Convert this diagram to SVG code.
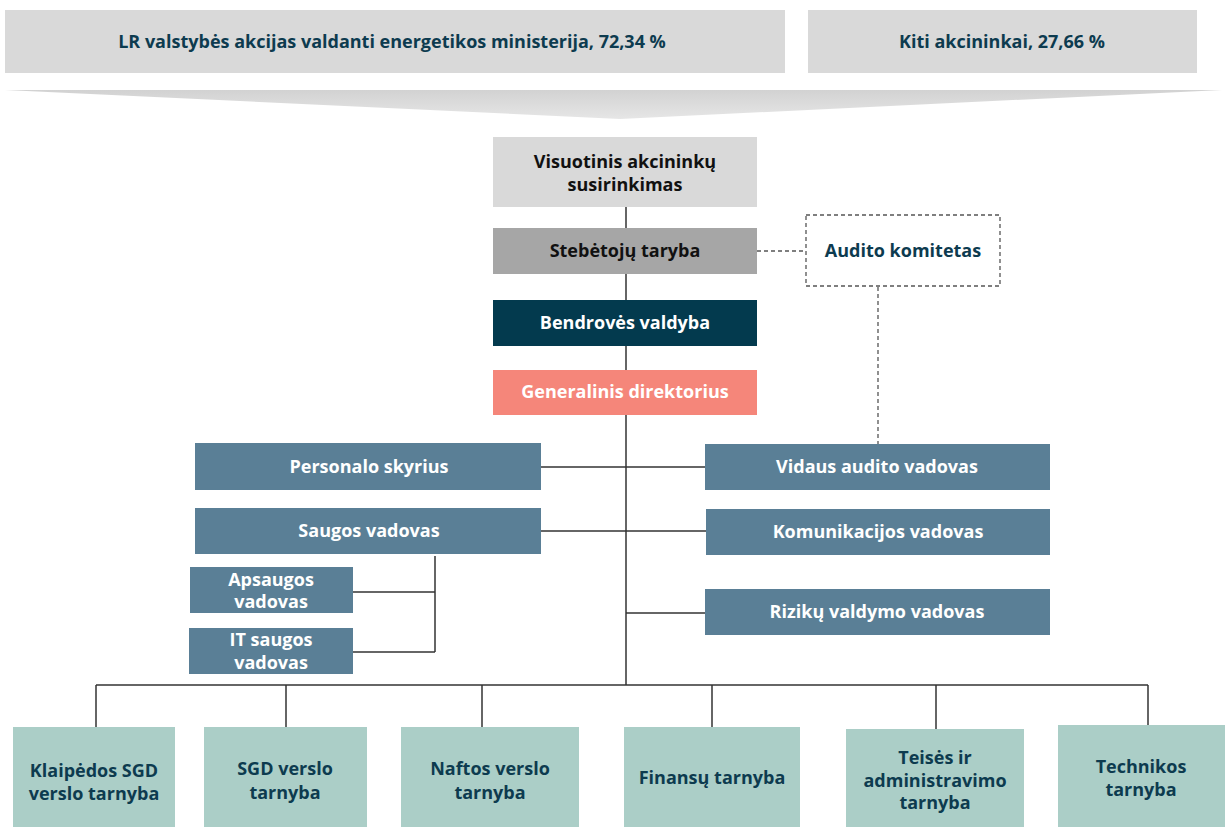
<svg xmlns="http://www.w3.org/2000/svg" width="1225" height="827" viewBox="0 0 1225 827">
<style>
text{font-family:"Open Sans",Lato,"Liberation Sans",sans-serif;font-weight:700;font-size:18px;text-anchor:middle}
.gray{fill:#d9d9d9}
.mid{fill:#a6a6a6}
.blue{fill:#5a7f96}
.teal{fill:#abcec7}
.dk{fill:#0d3b4f}
.wt{fill:#ffffff}
.bk{fill:#111111}
.ln{stroke:#333;stroke-width:1.5;fill:none}
.dash{stroke:#555;stroke-width:1.3;fill:none;stroke-dasharray:4 3}
</style>
<defs>
<linearGradient id="band" x1="0" y1="0" x2="0" y2="1">
<stop offset="0" stop-color="#d2d2d2"/>
<stop offset="1" stop-color="#e6e6e6"/>
</linearGradient>
</defs>
<rect width="1225" height="827" fill="#ffffff"/>

<g id="owner-lr"><rect class="gray" x="5" y="10" width="780" height="63"/><text class="dk" x="392" y="48">LR valstybės akcijas valdanti energetikos ministerija, 72,34 %</text></g>
<g id="owner-other"><rect class="gray" x="808" y="10" width="389" height="63"/><text class="dk" x="1002" y="48">Kiti akcininkai, 27,66 %</text></g>
<g id="band-arrow"><polygon points="5,90 1222,90 620,119" fill="url(#band)"/></g>

<g id="connectors">
<line class="ln" x1="626" y1="207" x2="626" y2="685"/>
<line class="ln" x1="541" y1="467" x2="705" y2="467"/>
<line class="ln" x1="541" y1="531" x2="706" y2="531"/>
<line class="ln" x1="626" y1="613" x2="705" y2="613"/>
<line class="ln" x1="435" y1="556" x2="435" y2="652"/>
<line class="ln" x1="353" y1="592" x2="435" y2="592"/>
<line class="ln" x1="353" y1="652" x2="435" y2="652"/>
<line class="ln" x1="96" y1="685" x2="1148" y2="685"/>
<line class="ln" x1="96" y1="685" x2="96" y2="727"/>
<line class="ln" x1="286" y1="685" x2="286" y2="727"/>
<line class="ln" x1="482" y1="685" x2="482" y2="727"/>
<line class="ln" x1="712" y1="685" x2="712" y2="727"/>
<line class="ln" x1="936" y1="685" x2="936" y2="729"/>
<line class="ln" x1="1148" y1="685" x2="1148" y2="725"/>
<line class="dash" x1="757" y1="251" x2="806" y2="251"/>
<line class="dash" x1="878" y1="287" x2="878" y2="444"/>
</g>

<g id="visuotinis"><rect class="gray" x="493" y="137" width="264" height="70"/><text class="bk" x="625" y="168">Visuotinis akcininkų</text><text class="bk" x="625" y="191">susirinkimas</text></g>
<g id="stebetoju"><rect class="mid" x="493" y="228" width="264" height="46"/><text class="bk" x="625" y="257">Stebėtojų taryba</text></g>
<g id="audito-komitetas"><rect x="806" y="215" width="194" height="71" fill="#ffffff" stroke="#555" stroke-width="1.3" stroke-dasharray="4 3"/><text class="dk" x="903" y="257">Audito komitetas</text></g>
<g id="valdyba"><rect x="493" y="300" width="264" height="46" fill="#033a4e"/><text class="wt" x="625" y="329">Bendrovės valdyba</text></g>
<g id="direktorius"><rect x="493" y="370" width="264" height="45" fill="#f5867a"/><text class="wt" x="625" y="398">Generalinis direktorius</text></g>

<g id="personalo"><rect class="blue" x="195" y="443" width="346" height="47"/><text class="wt" x="369" y="473">Personalo skyrius</text></g>
<g id="vidaus-audito"><rect class="blue" x="705" y="444" width="345" height="46"/><text class="wt" x="877" y="473">Vidaus audito vadovas</text></g>
<g id="saugos"><rect class="blue" x="195" y="508" width="346" height="46"/><text class="wt" x="369" y="537">Saugos vadovas</text></g>
<g id="komunikacijos"><rect class="blue" x="706" y="509" width="344" height="46"/><text class="wt" x="878" y="538">Komunikacijos vadovas</text></g>
<g id="apsaugos"><rect class="blue" x="190" y="567" width="163" height="46"/><text class="wt" x="271" y="586">Apsaugos</text><text class="wt" x="271" y="608">vadovas</text></g>
<g id="it-saugos"><rect class="blue" x="189" y="628" width="164" height="46"/><text class="wt" x="271" y="646">IT saugos</text><text class="wt" x="271" y="669">vadovas</text></g>
<g id="rizikos"><rect class="blue" x="705" y="589" width="345" height="46"/><text class="wt" x="877" y="618">Rizikų valdymo vadovas</text></g>

<g id="klaipedos"><rect class="teal" x="13" y="727" width="162" height="100"/><text class="dk" x="94" y="777">Klaipėdos SGD</text><text class="dk" x="94" y="800">verslo tarnyba</text></g>
<g id="sgd"><rect class="teal" x="204" y="727" width="163" height="100"/><text class="dk" x="285" y="775">SGD verslo</text><text class="dk" x="285" y="799">tarnyba</text></g>
<g id="naftos"><rect class="teal" x="401" y="727" width="178" height="100"/><text class="dk" x="490" y="775">Naftos verslo</text><text class="dk" x="490" y="799">tarnyba</text></g>
<g id="finansu"><rect class="teal" x="624" y="727" width="176" height="100"/><text class="dk" x="712" y="784">Finansų tarnyba</text></g>
<g id="teises"><rect class="teal" x="846" y="729" width="178" height="98"/><text class="dk" x="935" y="764">Teisės ir</text><text class="dk" x="935" y="787">administravimo</text><text class="dk" x="935" y="809">tarnyba</text></g>
<g id="technikos"><rect class="teal" x="1058" y="725" width="167" height="102"/><text class="dk" x="1141" y="773">Technikos</text><text class="dk" x="1141" y="796">tarnyba</text></g>
</svg>
